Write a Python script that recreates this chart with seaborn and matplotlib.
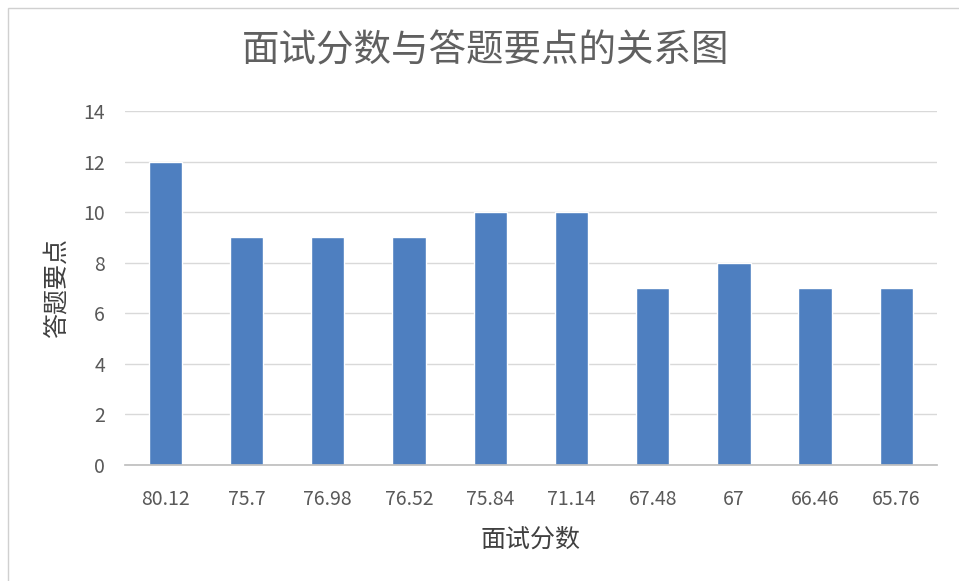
import matplotlib
matplotlib.use("Agg")
import pandas as pd
import seaborn as sns
from matplotlib import pyplot as plt
from matplotlib.patches import Rectangle

# data
scores = ["80.12", "75.7", "76.98", "76.52", "75.84", "71.14", "67.48", "67", "66.46", "65.76"]
points = [12, 9, 9, 9, 10, 10, 7, 8, 7, 7]

title = "面试分数与答题要点的关系图"
x_label = "面试分数"
y_label = "答题要点"

sns.set_theme(style="white")
plt.rcParams["font.family"] = ["Noto Sans CJK SC", "DejaVu Sans"]

df = pd.DataFrame({"score": scores, "points": points})

fig = plt.figure(figsize=(9.59, 5.81), dpi=100)
ax = fig.add_axes([0.130, 0.1997, 0.847, 0.6093])

sns.barplot(data=df, x="score", y="points", color="#4e7fc0", saturation=1,
            width=0.41, ax=ax, order=scores)

ax.set_ylim(0, 14)
ax.set_yticks(range(0, 15, 2))
ax.set_xlim(-0.5, len(scores) - 0.5)
ax.yaxis.grid(True, color="#d9d9d9", linewidth=1)
ax.set_axisbelow(True)
for side in ["top", "right", "left"]:
    ax.spines[side].set_visible(False)
ax.spines["bottom"].set_color("#bfbfbf")
ax.tick_params(axis="both", length=0, labelsize=14, colors="#595959")
ax.tick_params(axis="x", pad=17)
ax.tick_params(axis="y", pad=14)

ax.set_xlabel(x_label, fontsize=18, color="#404040", labelpad=12)
ax.set_ylabel(y_label, fontsize=18, color="#404040", labelpad=10)
fig.text(0.506, 0.912, title, ha="center", va="center", fontsize=27,
         color="#606060")

# chart frame
fig.patches.append(Rectangle((8 / 959, -0.01), 1.0, 1 - 8 / 581 + 0.01, transform=fig.transFigure,
                             fill=False, edgecolor="#d0d0d0", linewidth=1))

fig.savefig("out.png", dpi=100)
